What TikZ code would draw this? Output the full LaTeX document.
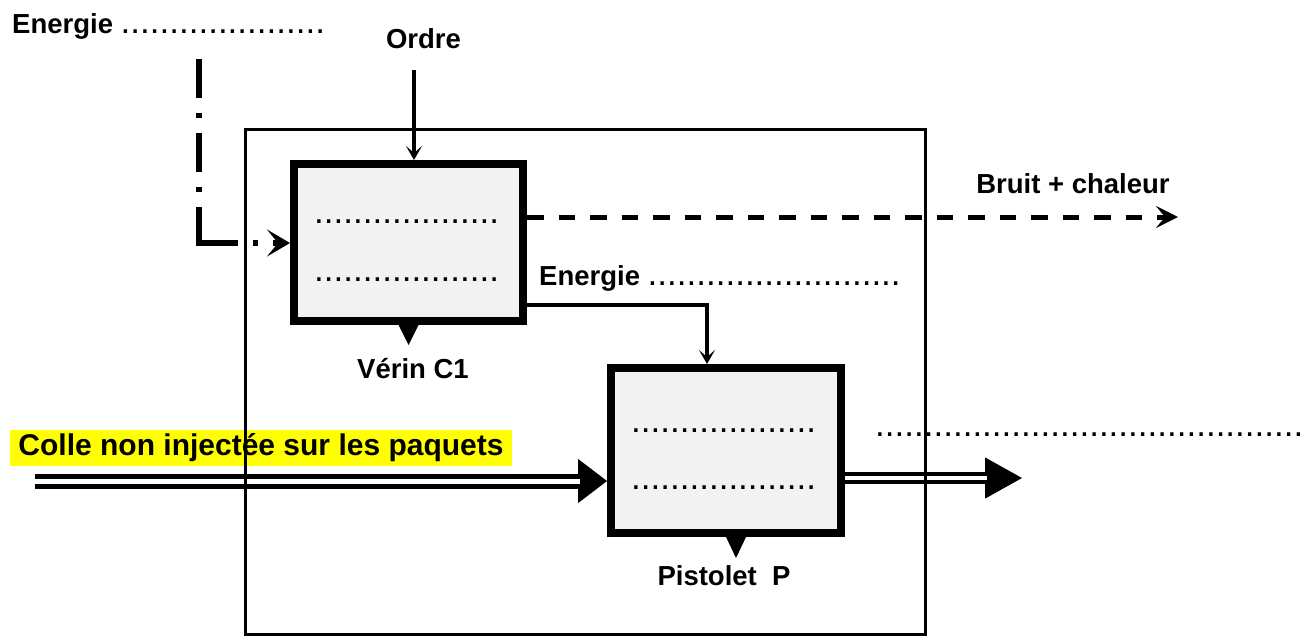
\documentclass[tikz,border=0pt]{standalone}
\usepackage{fontspec}
\setmainfont{Liberation Sans}
\usetikzlibrary{arrows.meta, positioning}
\definecolor{fondbloc}{HTML}{F2F2F2}
\definecolor{surligne}{HTML}{FFFF00}
\newcommand\etiq{\fontsize{27.5}{32}\selectfont\bfseries}
\newcommand\pointill{\fontsize{35}{40}\mdseries\selectfont}
\tikzset{
  cadre/.style={rectangle,draw,line width=3pt,inner sep=0pt},
  bloc/.style={rectangle,draw,line width=8pt,fill=fondbloc,inner sep=0pt},
  texte/.style={font=\etiq,inner sep=0pt},
  trous/.style={font=\pointill,inner sep=0pt,anchor=base west},
  support/.style={fill=black},
  ordre/.style={line width=3.5pt,-{Stealth[length=14pt,width=16pt,inset=7pt]}},
  energie/.style={line width=5.5pt,dash pattern=on 39pt off 15pt on 5pt off 15pt},
  pertes/.style={line width=5pt,dash pattern=on 16.5pt off 15pt,-{Stealth[length=22pt,width=22pt,inset=9pt]}},
  matiere/.style={double,line width=5pt,double distance=5pt},
  pointe/.style={line width=1pt,-{Triangle[length=29pt,width=44pt]}}
}
\begin{document}
\begin{tikzpicture}[x=1pt,y=-1pt]
\useasboundingbox (0,0) rectangle (1306,638);
% blocs
\node[bloc,minimum width=229pt,minimum height=157pt] (verin) at (408.5,242.5) {};
\node[bloc,minimum width=230pt,minimum height=165pt] (pistolet) at (726,450.5) {};
\fill[support] ([xshift=-10pt]verin.south) -- ++(20,0) -- ++(-10,20) -- cycle;
\fill[support] (pistolet.south) -- ++(20,0) -- ++(-10,21) -- cycle;
\node[texte,anchor=base] (nom-verin) at (413,378) {Vérin C1};
\node[texte,anchor=base] (nom-pistolet) at (724,585) {Pistolet\ \ P};
\node[trous] (verin-l1) at (314,223.5) {...................};
\node[trous] (verin-l2) at (314,281.5) {...................};
\node[trous] (pistolet-l1) at (631,432.5) {...................};
\node[trous] (pistolet-l2) at (631,489.5) {...................};
% textes
\node[texte,anchor=base west] (energie-haut) at (12,33) {Energie {\pointill.....................}};
\node[texte,anchor=base] (ordre) at (423.5,48) {Ordre};
\node[texte,anchor=base] (bruit) at (1073,193) {Bruit + chaleur};
\node[texte,anchor=base west] (energie-milieu) at (539,285) {Energie {\pointill..........................}};
\node[trous] (sortie-vide) at (875,436) {............................................};
\node[texte,fill=surligne,font=\fontsize{30}{36}\selectfont\bfseries,minimum width=502pt,minimum height=36pt] (colle) at (261,448) {Colle non injectée sur les paquets};
% connexions
\coordinate (ordre-src) at (414,70);
\coordinate (e-src) at (199,59);
\coordinate (e-coin) at (199,243);
\coordinate (coude) at (707,305);
\coordinate (bruit-fin) at (1178,217);
\coordinate (colle-src) at (35,481);
\coordinate (sortie-fin) at (1022,478);
\draw[ordre] (ordre-src) -- (ordre-src |- verin.north);
\draw[energie] (e-src) -- ([yshift=-3pt]e-coin);
\draw[energie,-{Stealth[length=23pt,width=27pt,inset=11pt]}] (e-coin) -- (e-coin -| verin.west);
\draw[pertes] (verin.east |- bruit-fin) -- (bruit-fin);
\draw[ordre] (verin.east |- coude) -- (coude) -- (coude |- pistolet.north);
\draw[pointe] (colle-src) -- (colle-src -| pistolet.west);
\draw[matiere,shorten >=27pt] (colle-src) -- (colle-src -| pistolet.west);
\draw[pointe,-{Triangle[length=37pt,width=41pt]}] (pistolet.east |- sortie-fin) -- (sortie-fin);
\draw[matiere,line width=4pt,double distance=4pt,shorten >=35pt] (pistolet.east |- sortie-fin) -- (sortie-fin);
% cadre du systeme
\node[cadre,minimum width=680pt,minimum height=504.5pt] (systeme) at (585.5,381.75) {};
\end{tikzpicture}
\end{document}
